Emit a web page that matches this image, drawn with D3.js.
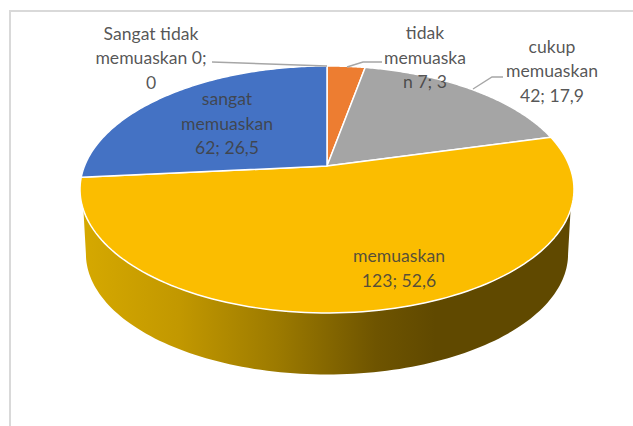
<!DOCTYPE html>
<html><head><meta charset="utf-8">
<script src="https://cdn.jsdelivr.net/npm/d3@7"></script>
<style>html,body{margin:0;padding:0;background:#fff}svg{display:block}</style>
</head><body><svg id="c" width="633" height="426"></svg>
<script>
const categories = ["Sangat tidak memuaskan","tidak memuaskan","cukup memuaskan","memuaskan","sangat memuaskan"];
const values = [0,7,42,123,62];
const percents = ["0","3","17,9","52,6","26,5"];
const colors = ["#5b9bd5","#ed7d31","#a5a5a5","#fbbd00","#4472c4"];
const labelLines = [["Sangat tidak","memuaskan 0;","0"],["tidak","memuaska","n 7; 3"],["cukup","memuaskan","42; 17,9"],["memuaskan","123; 52,6"],["sangat","memuaskan","62; 26,5"]];
const labelPos = [[151,39.5],[425,39],[552,52.5],[399,262],[227,105]];

const svg = d3.select("#c");
const cx=327, apexY=166, persp=-0.19, ka=87.5, kc=242.5;
const TAU=2*Math.PI;
function proj(t,scale=1,dy=0){
  const u=Math.sin(t), v=-Math.cos(t), w=1+persp*v;
  const yc=(apexY+ka*v)/w, ec=189.5;
  return [cx+scale*kc*u/w, ec+scale*(yc-ec)+dy];
}
const line=d3.line();
const arcPts=(a,b,s=1,dy=0)=>d3.range(0,121).map(i=>proj(a+(b-a)*i/120,s,dy));

const defs=svg.append("defs");
const g=defs.append("linearGradient").attr("id","wall").attr("gradientUnits","userSpaceOnUse")
  .attr("x1",80).attr("x2",574).attr("y1",0).attr("y2",0);
[[0,"#d6a900"],[0.2,"#c29800"],[0.4,"#9c7a00"],[0.6,"#6e5400"],[0.72,"#604900"],[1,"#604900"]]
  .forEach(d=>g.append("stop").attr("offset",d[0]).attr("stop-color",d[1]));

// frame
svg.append("path").attr("d","M10,426V11H633").attr("fill","none").attr("stroke","#d9d9d9").attr("stroke-width",2);

// side wall: starts where the rim meets the lower edge, narrows down to the base ellipse
const rimStart=Math.acos(-0.345), baseStart=Math.acos(persp);
const wall=[...arcPts(rimStart,TAU-rimStart), ...arcPts(TAU-baseStart,baseStart,0.976,64.5)];
svg.append("path").attr("d",line(wall)+"Z").attr("fill","url(#wall)");

// top slices
const pie=d3.pie().sort(null).startAngle(0).endAngle(TAU);
const arcs=pie(values);
svg.append("g").selectAll("path").data(arcs).join("path")
  .attr("d",d=>line([[cx,apexY],...arcPts(d.startAngle,d.endAngle)])+"Z")
  .attr("fill",(d,i)=>colors[i]).attr("stroke","#fff").attr("stroke-width",1.5).attr("stroke-linejoin","round");

// leaders
const leaders=[[[212,62],[327,66]],[[382,62],[363,62],[347,67]],[[503,77],[492,77],[473,89]]];
svg.append("g").selectAll("path").data(leaders).join("path").attr("d",d=>line(d))
  .attr("fill","none").attr("stroke","#a6a6a6").attr("stroke-width",1.4);

// labels
const lh=24.5;
const tg=svg.append("g").attr("font-family","Lato, 'Open Sans', sans-serif").attr("font-size",17.6).attr("fill","#404040").attr("text-anchor","middle");
labelLines.forEach((ls,i)=>{
  ls.forEach((s,j)=>{
    tg.append("text").attr("x",labelPos[i][0]).attr("y",labelPos[i][1]+j*lh).attr("fill-opacity",0.88).text(s);
  });
});
</script></body></html>
